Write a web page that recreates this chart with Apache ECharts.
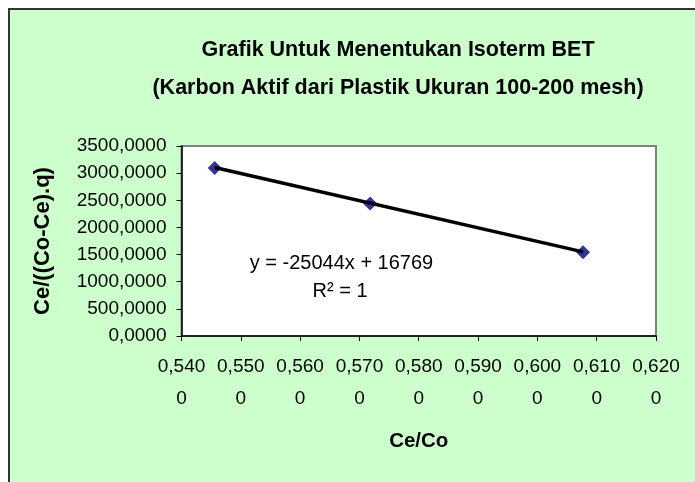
<!DOCTYPE html>
<html>
<head>
<meta charset="utf-8">
<script src="https://cdn.jsdelivr.net/npm/echarts@6/dist/echarts.min.js"></script>
<style>
html,body{margin:0;padding:0;background:#fff;}
#chart{width:695px;height:482px;}
</style>
</head>
<body>
<div id="chart"></div>
<script>
// Data
const ceCo = [0.5456, 0.5718, 0.6077];
const ceQ = [3095, 2440, 1545];
// Linear trendline from the chart's equation: y = -25044x + 16769
const trendSlope = [-25044];
const trendIntercept = [16769];
const equationText = ['y = -25044x + 16769', 'R\u00B2 = 1'];
const titleLines = ['Grafik Untuk Menentukan Isoterm BET', '(Karbon Aktif dari Plastik Ukuran 100-200 mesh)'];
const xAxisName = 'Ce/Co';
const yAxisName = 'Ce/((Co-Ce).q)';

const xMin = Math.min(...ceCo), xMax = Math.max(...ceCo);
const trendData = [xMin, xMax].map(x => [x, trendSlope[0] * x + trendIntercept[0]]);
const scatterData = ceCo.map((x, i) => [x, ceQ[i]]);

const FONT = '"Liberation Sans", Arial, sans-serif';
const chart = echarts.init(document.getElementById('chart'), null, {renderer: 'canvas'});
chart.setOption({
  backgroundColor: '#ffffff',
  animation: false,
  graphic: [
    {type: 'rect', z: -10, silent: true,
     shape: {x: 9, y: 9, width: 720, height: 520},
     style: {fill: '#CCFFCC', stroke: '#333333', lineWidth: 2}},
    {type: 'text', z: 10, x: 398, y: 50,
     style: {text: titleLines[0], font: 'bold 21.5px ' + FONT, fill: '#000', align: 'center', verticalAlign: 'middle'}},
    {type: 'text', z: 10, x: 398, y: 88,
     style: {text: titleLines[1], font: 'bold 21.5px ' + FONT, fill: '#000', align: 'center', verticalAlign: 'middle'}},
    {type: 'text', z: 10, x: 341.5, y: 263.5,
     style: {text: equationText[0], font: '20px ' + FONT, fill: '#000', align: 'center', verticalAlign: 'middle'}},
    {type: 'text', z: 10, x: 340, y: 291,
     style: {text: equationText[1], font: '20px ' + FONT, fill: '#000', align: 'center', verticalAlign: 'middle'}}
  ],
  grid: {left: 181.5, right: 39, top: 146, bottom: 146, show: true,
         backgroundColor: '#ffffff', borderColor: '#808080', borderWidth: 2},
  xAxis: {
    type: 'value', min: 0.54, max: 0.62, interval: 0.01,
    name: xAxisName, nameLocation: 'middle', nameGap: 95,
    nameTextStyle: {fontFamily: FONT, fontWeight: 'bold', fontSize: 20.5, color: '#000'},
    axisLine: {lineStyle: {color: '#000', width: 1.5}},
    axisTick: {show: true, length: 5, lineStyle: {color: '#000'}},
    splitLine: {show: false},
    axisLabel: {
      fontFamily: FONT, fontSize: 19, color: '#000', margin: 15, lineHeight: 32,
      formatter: v => { const s = v.toFixed(4).replace('.', ','); return s.slice(0, 5) + '\n' + s.slice(5); }
    }
  },
  yAxis: {
    type: 'value', min: 0, max: 3500, interval: 500,
    name: yAxisName, nameLocation: 'middle', nameGap: 128, nameRotate: 90,
    nameTextStyle: {fontFamily: FONT, fontWeight: 'bold', fontSize: 22, color: '#000'},
    axisLine: {show: true, lineStyle: {color: '#000', width: 1.5}},
    axisTick: {show: true, length: 5, lineStyle: {color: '#000'}},
    splitLine: {show: false},
    axisLabel: {
      fontFamily: FONT, fontSize: 19, color: '#000', margin: 15,
      formatter: v => v.toFixed(4).replace('.', ',')
    }
  },
  series: [
    {type: 'scatter', data: scatterData, symbol: 'diamond', symbolSize: 14,
     itemStyle: {color: '#000080'}, z: 2},
    {type: 'line', data: trendData, showSymbol: false, symbol: 'none',
     lineStyle: {color: '#000', width: 3.5}, z: 3}
  ]
});
</script>
</body>
</html>
